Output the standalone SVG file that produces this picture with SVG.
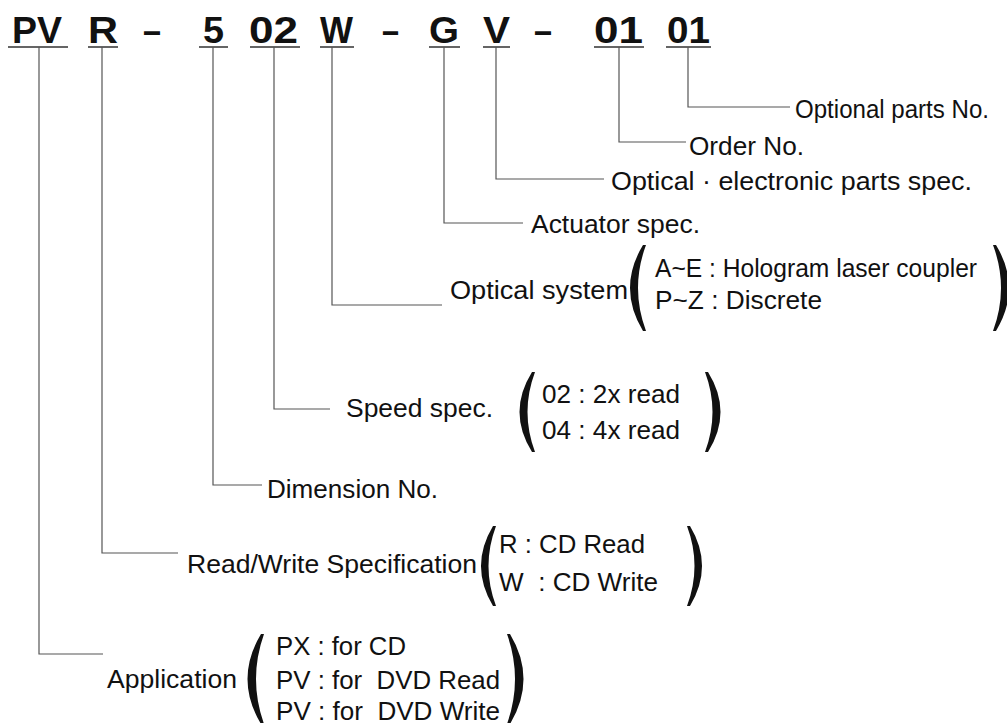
<svg xmlns="http://www.w3.org/2000/svg" width="1007" height="723" viewBox="0 0 1007 723">
<style>
.hd{font-family:"Liberation Sans",Arial,sans-serif;font-weight:bold;font-size:36px;fill:#111}
.t{font-family:"Liberation Sans",Arial,sans-serif;font-size:25px;fill:#111}
.ul{stroke:#333;stroke-width:1.5;fill:none}
.c{stroke:#555;stroke-width:1.2;fill:none}
.p{fill:#111;stroke:none}
</style>
<rect width="1007" height="723" fill="#fff"/>
<g id="code">
<text class="hd" x="12" y="43" textLength="50" lengthAdjust="spacingAndGlyphs">PV</text>
<text class="hd" x="88" y="43" textLength="30" lengthAdjust="spacingAndGlyphs">R</text>
<text class="hd" x="143" y="43" textLength="18" lengthAdjust="spacingAndGlyphs">–</text>
<text class="hd" x="203" y="43" textLength="21" lengthAdjust="spacingAndGlyphs">5</text>
<text class="hd" x="249" y="43" textLength="49" lengthAdjust="spacingAndGlyphs">02</text>
<text class="hd" x="320" y="43" textLength="33" lengthAdjust="spacingAndGlyphs">W</text>
<text class="hd" x="382" y="43" textLength="17" lengthAdjust="spacingAndGlyphs">–</text>
<text class="hd" x="429" y="43" textLength="30" lengthAdjust="spacingAndGlyphs">G</text>
<text class="hd" x="483" y="43" textLength="27" lengthAdjust="spacingAndGlyphs">V</text>
<text class="hd" x="534" y="43" textLength="18" lengthAdjust="spacingAndGlyphs">–</text>
<text class="hd" x="594" y="43" textLength="49" lengthAdjust="spacingAndGlyphs">01</text>
<text class="hd" x="667" y="43" textLength="43" lengthAdjust="spacingAndGlyphs">01</text>
<path class="ul" d="M8 47H68M88 47H118M199 47H228M250 47H300M320 47H354M429 47H460M483 47H510M594 47H644M666 47H711"/>
</g>
<g id="connectors">
<path class="c" d="M688 47V107H790"/>
<path class="c" d="M619 47V142H686"/>
<path class="c" d="M496 47V179H604"/>
<path class="c" d="M444 47V223H523"/>
<path class="c" d="M332 47V305H442"/>
<path class="c" d="M274 47V409H330"/>
<path class="c" d="M213 47V485H262"/>
<path class="c" d="M102 47V553H178"/>
<path class="c" d="M39 47V654H103"/>
</g>
<g id="optional-parts">
<text class="t" x="795" y="118" textLength="194" lengthAdjust="spacingAndGlyphs">Optional parts No.</text>
</g>
<g id="order-no">
<text class="t" x="689" y="155" textLength="115" lengthAdjust="spacingAndGlyphs">Order No.</text>
</g>
<g id="optical-electronic">
<text class="t" x="611" y="190" textLength="361" lengthAdjust="spacingAndGlyphs">Optical · electronic parts spec.</text>
</g>
<g id="actuator">
<text class="t" x="531" y="233" textLength="169" lengthAdjust="spacingAndGlyphs">Actuator spec.</text>
</g>
<g id="optical-system">
<text class="t" x="450" y="299" textLength="178" lengthAdjust="spacingAndGlyphs">Optical system</text>
<path class="p" d="M643 245Q617 288 643 331L646 331Q630 288 646 245Z"/>
<text class="t" x="655" y="277" textLength="322" lengthAdjust="spacingAndGlyphs">A~E : Hologram laser coupler</text>
<text class="t" x="655" y="309" textLength="167" lengthAdjust="spacingAndGlyphs">P~Z : Discrete</text>
<path class="p" d="M996 245Q1022 288 996 331L993 331Q1009 288 993 245Z"/>
</g>
<g id="speed">
<text class="t" x="346" y="417" textLength="147" lengthAdjust="spacingAndGlyphs">Speed spec.</text>
<path class="p" d="M532 372Q507 412 532 452L535 452Q520 412 535 372Z"/>
<text class="t" x="542" y="403" textLength="138" lengthAdjust="spacingAndGlyphs">02 : 2x read</text>
<text class="t" x="542" y="439" textLength="138" lengthAdjust="spacingAndGlyphs">04 : 4x read</text>
<path class="p" d="M708 372Q733 412 708 452L705 452Q720 412 705 372Z"/>
</g>
<g id="dimension">
<text class="t" x="267" y="498" textLength="171" lengthAdjust="spacingAndGlyphs">Dimension No.</text>
</g>
<g id="read-write">
<text class="t" x="187" y="573" textLength="290" lengthAdjust="spacingAndGlyphs">Read/Write Specification</text>
<path class="p" d="M493 526Q469 566 493 606L496 606Q481 566 496 526Z"/>
<text class="t" x="499" y="553" textLength="146" lengthAdjust="spacingAndGlyphs">R : CD Read</text>
<text class="t" x="499" y="591" textLength="159" lengthAdjust="spacingAndGlyphs" xml:space="preserve">W  : CD Write</text>
<path class="p" d="M690 526Q714 566 690 606L687 606Q702 566 687 526Z"/>
</g>
<g id="application">
<text class="t" x="107" y="688" textLength="130" lengthAdjust="spacingAndGlyphs">Application</text>
<path class="p" d="M261 634Q234 679 261 724L264 724Q248 679 264 634Z"/>
<text class="t" x="276" y="655" textLength="130" lengthAdjust="spacingAndGlyphs">PX : for CD</text>
<text class="t" x="276" y="689" textLength="224" lengthAdjust="spacingAndGlyphs" xml:space="preserve">PV : for  DVD Read</text>
<text class="t" x="276" y="720" textLength="224" lengthAdjust="spacingAndGlyphs" xml:space="preserve">PV : for  DVD Write</text>
<path class="p" d="M510 634Q537 679 510 724L507 724Q523 679 507 634Z"/>
</g>
</svg>
